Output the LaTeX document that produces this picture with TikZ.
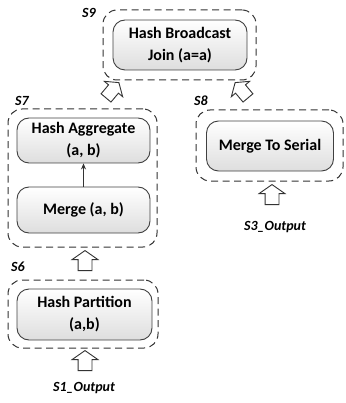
\documentclass[tikz,border=0pt]{standalone}
\usepackage{fontspec}
\setmainfont{Carlito}
\usetikzlibrary{shapes.arrows,arrows.meta}
\begin{document}
\begin{tikzpicture}[x=1pt,y=-1pt,
 op/.style={draw=black!75, line width=0.9pt, rounded corners=12pt, top color=white, bottom color=black!13, font=\fontsize{16}{22}\selectfont\bfseries, align=center, inner sep=0pt},
 grp/.style={draw=black!80, line width=1pt, dash pattern=on 7pt off 4.5pt, rounded corners=14pt, inner sep=0pt},
 lbl/.style={font=\fontsize{14}{16}\selectfont\bfseries\itshape, inner sep=0pt},
 barrow/.style={single arrow, draw=black!80, line width=0.9pt, fill=white, inner xsep=0pt, inner ysep=6.5pt, minimum height=20pt, minimum width=0pt, single arrow head extend=6pt, single arrow tip angle=110},
 sarrow/.style={single arrow, draw=black!80, line width=0.9pt, fill=white, inner xsep=0pt, inner ysep=6pt, minimum height=20pt, minimum width=0pt, single arrow head extend=5.5pt, single arrow tip angle=110},
]
\path[use as bounding box] (0,0) rectangle (345,403);
% groups
\node[grp, minimum width=153pt, minimum height=70pt] (g9) at (179.5,45) {};
\node[grp, minimum width=149pt, minimum height=138pt] (g7) at (82.5,178) {};
\node[grp, minimum width=147pt, minimum height=71pt] (g8) at (269.5,145.5) {};
\node[grp, minimum width=150pt, minimum height=68pt] (g6) at (83,314) {};
% operators
\node[op, minimum width=134pt, minimum height=50pt] (join) at (180,45) {Hash Broadcast\\Join (a=a)};
\node[op, minimum width=133pt, minimum height=45pt] (hagg) at (83.5,140.5) {Hash Aggregate\\(a, b)};
\node[op, minimum width=133pt, minimum height=46pt] (merge) at (83.5,210) {Merge (a, b)};
\node[op, minimum width=127pt, minimum height=50pt] (mts) at (270,146) {Merge To Serial};
\node[op, minimum width=135pt, minimum height=51pt] (hpart) at (84.5,314.5) {Hash Partition\\(a,b)};
% labels
\node[lbl] (l9) at (89,13) {S9};
\node[lbl] (l7) at (22,101) {S7};
\node[lbl] (l8) at (201,101) {S8};
\node[lbl] (l6) at (18,267) {S6};
\node[lbl] (o3) at (275,227) {S3\_Output};
\node[lbl] (o1) at (84,388) {S1\_Output};
% connectors
\draw[black!80, line width=0.8pt, -{Stealth[length=6pt,width=5pt]}] (merge) -- (hagg);
\node[sarrow, rotate=50] (a79) at (111,92) {};
\node[sarrow, rotate=130] (a89) at (243,92) {};
\node[barrow, rotate=90] (a67) at (85,263) {};
\node[barrow, rotate=90] (a16) at (85,363) {};
\node[barrow, rotate=90] (a38) at (272,197) {};
\end{tikzpicture}
\end{document}
